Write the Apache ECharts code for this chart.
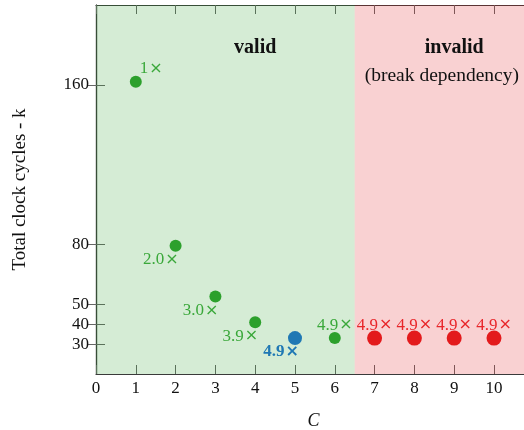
<!DOCTYPE html>
<html>
<head>
<meta charset="utf-8">
<script src="https://cdn.jsdelivr.net/npm/echarts@6/dist/echarts.min.js"></script>
<style>
  html, body { margin: 0; padding: 0; background: #fff; }
  #chart { width: 524px; height: 430px; }
</style>
</head>
<body>
<div id="chart"></div>
<script>
var xTicks = [0, 1, 2, 3, 4, 5, 6, 7, 8, 9, 10];
var yTicks = [30, 40, 50, 80, 160];

// valid (green)
var validX = [1, 2, 3, 4, 6];
var validY = [161.5, 79.3, 53.8, 41, 33];
var validLabels = ['1×', '2.0×', '3.0×', '3.9×', '4.9×'];
// chosen point (blue)
var bestX = [5];
var bestY = [33];
var bestLabels = ['4.9×'];
// invalid (red)
var invalidX = [7, 8, 9, 10];
var invalidY = [33, 33, 33, 33];
var invalidLabels = ['4.9×', '4.9×', '4.9×', '4.9×'];

var splitAt = 6.5;
var xMax = 10.93;

var font = 'Liberation Serif';
var axisColor = '#3a3a3a';
var tickColor = '#666';
var green = '#2ca02c', greenText = '#3aa83a';
var blue = '#1f78b4';
var red = '#e31a1c', redText = '#e8262a';

var myChart = echarts.init(document.getElementById('chart'), null, { renderer: 'canvas' });

// the × sign is drawn a bit bigger, like in the original typesetting
function timesLabel(p) {
    var s = p.data.text;
    return s.replace('×', '') + '{x|×}';
}
var timesRich = { x: { fontFamily: 'DejaVu Sans', fontSize: 16, padding: [0, 0, 0, 1] } };

// where each green label sits relative to its dot
var labelBelowLeft = { position: 'inside', align: 'right', verticalAlign: 'middle', offset: [3, 14] };
var labelTopRight = { position: 'inside', align: 'left', verticalAlign: 'middle', offset: [4, -13] };
var labelTop = { position: 'inside', align: 'center', verticalAlign: 'middle', offset: [0, -13] };
var validPlace = [labelTopRight, labelBelowLeft, labelBelowLeft, labelBelowLeft, labelTop];

function points(xs, ys, labels, places) {
    return xs.map(function (x, i) {
        return { value: [x, ys[i]], text: labels[i], label: places ? places[i] : {} };
    });
}

var tickStyle = function (vals) {
    return { show: true, inside: true, length: 9, customValues: vals, lineStyle: { color: tickColor } };
};

var option = {
    backgroundColor: '#fff',
    animation: false,
    textStyle: { fontFamily: font },
    grid: { left: 96, right: -7, top: 5, bottom: 56, outerBoundsMode: 'none' },
    xAxis: [{
        type: 'value',
        min: 0,
        max: xMax,
        name: 'C',
        nameLocation: 'middle',
        nameGap: 38,
        nameTextStyle: { fontFamily: font, fontSize: 18, fontStyle: 'italic', color: '#111' },
        axisLine: { show: true, lineStyle: { color: axisColor, width: 1.2 } },
        axisTick: tickStyle(xTicks),
        axisLabel: { customValues: xTicks, margin: 6, fontFamily: font, fontSize: 17, color: '#111' },
        splitLine: { show: false }
    }, {
        type: 'value',
        position: 'top',
        min: 0,
        max: xMax,
        axisLine: { show: true, lineStyle: { color: axisColor, width: 1.2 } },
        axisTick: tickStyle(xTicks),
        axisLabel: { show: false },
        splitLine: { show: false }
    }],
    yAxis: [{
        type: 'value',
        min: 15,
        max: 200,
        name: 'Total clock cycles - k',
        nameLocation: 'middle',
        nameGap: 66,
        nameTextStyle: { fontFamily: font, fontSize: 19, color: '#111' },
        axisLine: { show: true, lineStyle: { color: axisColor, width: 1.2 } },
        axisTick: tickStyle(yTicks),
        axisLabel: { customValues: yTicks, margin: 7, fontFamily: font, fontSize: 17, color: '#111' },
        splitLine: { show: false }
    }, {
        type: 'value',
        position: 'right',
        min: 15,
        max: 200,
        axisLine: { show: true, lineStyle: { color: axisColor, width: 1.2 } },
        axisTick: tickStyle(yTicks),
        axisLabel: { show: false },
        splitLine: { show: false }
    }],
    series: [{
        name: 'valid',
        type: 'scatter',
        symbolSize: 12,
        itemStyle: { color: green, opacity: 1 },
        label: { show: true, fontFamily: font, fontSize: 17, color: greenText, formatter: timesLabel, rich: timesRich },
        data: points(validX, validY, validLabels, validPlace),
        markArea: {
            silent: true,
            itemStyle: { color: 'rgba(44,160,44,0.2)' },
            label: { show: false },
            data: [[{ xAxis: 0 }, { xAxis: splitAt }]]
        },
        markPoint: {
            symbol: 'circle',
            symbolSize: 0,
            silent: true,
            label: { show: true, position: 'inside', fontFamily: font, fontSize: 20, fontWeight: 'bold', color: '#111' },
            data: [{ coord: [4, 178.6], value: 'valid', label: { formatter: 'valid' } }]
        },
        z: 3
    }, {
        name: 'best',
        type: 'scatter',
        symbolSize: 14,
        itemStyle: { color: blue, opacity: 1 },
        label: { show: true, fontFamily: font, fontSize: 17, fontWeight: 'bold', color: blue,
                 formatter: timesLabel, rich: timesRich,
                 position: 'inside', align: 'right', verticalAlign: 'middle', offset: [4, 14] },
        data: points(bestX, bestY, bestLabels),
        z: 3
    }, {
        name: 'invalid',
        type: 'scatter',
        symbolSize: 15,
        itemStyle: { color: red, opacity: 1 },
        label: { show: true, fontFamily: font, fontSize: 17, color: redText,
                 formatter: timesLabel, rich: timesRich,
                 position: 'inside', align: 'center', verticalAlign: 'middle', offset: [0, -13] },
        data: points(invalidX, invalidY, invalidLabels),
        markArea: {
            silent: true,
            itemStyle: { color: 'rgba(227,26,28,0.2)' },
            label: { show: false },
            data: [[{ xAxis: splitAt }, { xAxis: xMax }]]
        },
        markPoint: {
            symbol: 'circle',
            symbolSize: 0,
            silent: true,
            label: { show: true, position: 'inside', fontFamily: font, fontSize: 19.5, color: '#111' },
            data: [
                { coord: [9, 178.6], value: 'invalid', label: { formatter: 'invalid', fontWeight: 'bold', fontSize: 20 } },
                { coord: [8.69, 164.6], value: 'b', label: { formatter: '(break dependency)' } }
            ]
        },
        z: 3
    }]
};

myChart.setOption(option);
window.addEventListener('resize', myChart.resize);
</script>
</body>
</html>
